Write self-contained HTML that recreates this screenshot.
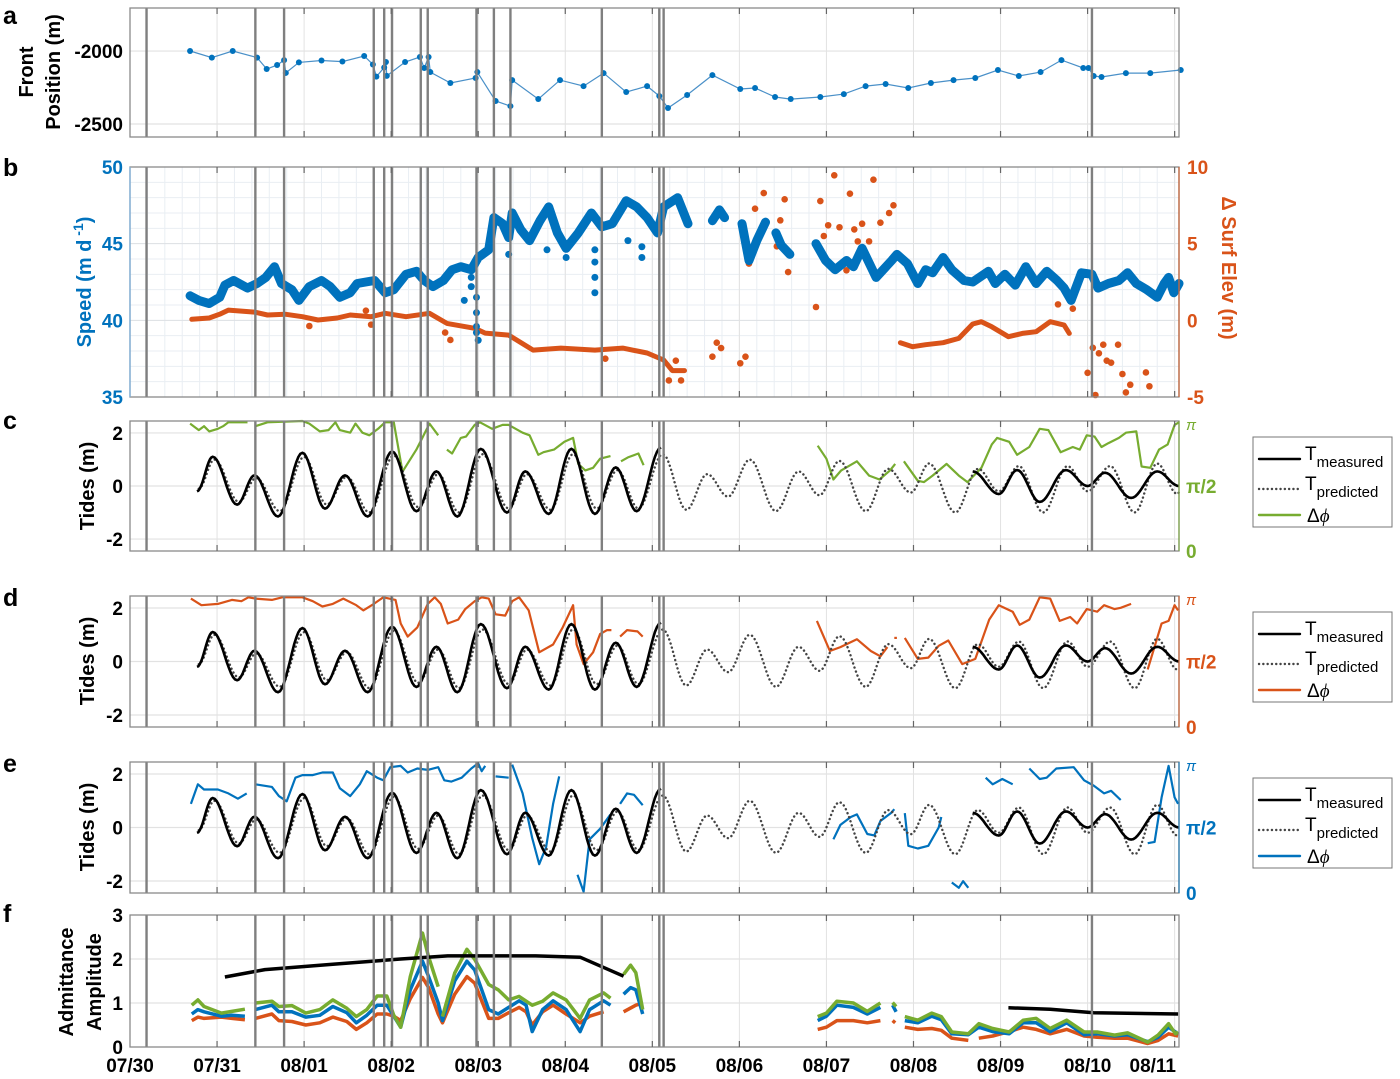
<!DOCTYPE html>
<html><head><meta charset="utf-8"><style>
html,body{margin:0;padding:0;background:#fff;}
svg{display:block;font-family:"Liberation Sans",Arial,sans-serif;font-weight:bold;}
</style></head><body>
<svg id="fig" width="1400" height="1079" viewBox="0 0 1400 1079" xmlns="http://www.w3.org/2000/svg">
<rect x="0" y="0" width="1400" height="1079" fill="#fff"/>
<g id="grids"></g>
<g id="marks"></g>
<g id="events"></g>
<g id="axes"></g>
<g id="labels" font-size="18" fill="#000">
<text x="3" y="24" font-size="25">a</text>
<text x="3" y="176" font-size="25">b</text>
<text x="3" y="429" font-size="25">c</text>
<text x="3" y="606" font-size="25">d</text>
<text x="3" y="772" font-size="25">e</text>
<text x="3" y="922" font-size="25">f</text>
<text transform="translate(33,72) rotate(-90)" text-anchor="middle" font-size="20">Front</text>
<text transform="translate(60,72) rotate(-90)" text-anchor="middle" font-size="20">Position (m)</text>
<text transform="translate(91,282) rotate(-90)" text-anchor="middle" font-size="20" fill="#0072BD">Speed (m d<tspan dy="-8" font-size="14"> -1</tspan><tspan dy="8">)</tspan></text>
<text transform="translate(1222,268) rotate(90)" text-anchor="middle" font-size="20" fill="#D95319">Δ Surf Elev (m)</text>
<text transform="translate(94,486) rotate(-90)" text-anchor="middle" font-size="20">Tides (m)</text>
<text transform="translate(94,661) rotate(-90)" text-anchor="middle" font-size="20">Tides (m)</text>
<text transform="translate(94,827) rotate(-90)" text-anchor="middle" font-size="20">Tides (m)</text>
<text transform="translate(73,982) rotate(-90)" text-anchor="middle" font-size="20">Admittance</text>
<text transform="translate(101,982) rotate(-90)" text-anchor="middle" font-size="20">Amplitude</text>
</g>
<g id="legends"></g>
</svg>
<script>
// ---------- DATA ----------
const dayLabels = ["07/30","07/31","08/01","08/02","08/03","08/04","08/05","08/06","08/07","08/08","08/09","08/10","08/11"];
const eventDays = [0.19,1.44,1.77,2.80,2.92,3.01,3.34,3.42,3.98,4.18,4.37,5.42,6.08,6.13,11.05];
const frontPos = [[0.69,-2000],[0.94,-2045],[1.18,-2000],[1.46,-2045],[1.57,-2123],[1.69,-2096],[1.77,-2062],[1.79,-2150],[1.94,-2078],[2.20,-2065],[2.44,-2072],[2.69,-2034],[2.79,-2092],[2.83,-2175],[2.92,-2113],[2.94,-2075],[2.95,-2170],[3.16,-2075],[3.33,-2041],[3.38,-2116],[3.43,-2041],[3.45,-2144],[3.68,-2219],[3.97,-2185],[3.99,-2144],[4.20,-2342],[4.37,-2377],[4.39,-2199],[4.69,-2329],[4.94,-2199],[5.21,-2240],[5.44,-2151],[5.70,-2281],[5.94,-2240],[6.08,-2308],[6.18,-2390],[6.40,-2301],[6.69,-2165],[7.01,-2260],[7.18,-2253],[7.41,-2315],[7.59,-2329],[7.93,-2315],[8.20,-2295],[8.45,-2240],[8.68,-2226],[8.94,-2253],[9.20,-2219],[9.46,-2199],[9.71,-2185],[9.97,-2130],[10.21,-2171],[10.46,-2144],[10.70,-2062],[10.95,-2116],[11.01,-2116],[11.07,-2171],[11.16,-2178],[11.44,-2151],[11.72,-2151],[12.07,-2130]];
const speedSegs = [
 [[0.69,41.6],[0.79,41.3],[0.91,41.1],[1.03,41.5],[1.09,42.3],[1.19,42.6],[1.35,42.1],[1.46,42.4],[1.56,42.8],[1.66,43.5],[1.74,42.4],[1.80,42.2],[1.86,42.0],[1.94,41.3],[2.06,42.2],[2.20,42.6],[2.30,42.2],[2.41,41.5],[2.53,41.8],[2.61,42.4],[2.81,42.6],[2.93,41.8],[3.03,42.0],[3.17,43.0],[3.29,43.2],[3.38,42.6],[3.48,42.2],[3.60,42.6],[3.70,43.3],[3.80,43.5],[3.92,43.3],[4.00,44.1],[4.12,44.6],[4.18,46.7],[4.28,46.3],[4.35,45.4],[4.39,47.0],[4.49,45.9],[4.59,45.2],[4.71,46.5],[4.81,47.4],[4.91,45.7],[5.01,44.7],[5.15,45.7],[5.30,47.0],[5.42,46.1],[5.54,46.3],[5.70,47.8],[5.82,47.4],[5.94,46.7],[6.06,45.7],[6.13,47.4],[6.29,48.0],[6.41,46.3]],
 [[6.69,46.5],[6.77,47.2],[6.83,46.7]],
 [[7.03,46.3],[7.11,43.9],[7.20,45.2],[7.30,46.4]],
 [[7.42,45.7],[7.48,44.9],[7.58,44.3]],
 [[7.88,45.0],[7.99,43.9],[8.10,43.3],[8.23,43.9],[8.31,43.5],[8.41,44.7],[8.57,42.8],[8.75,43.9],[8.81,44.3],[8.93,43.7],[9.05,42.4],[9.14,43.3],[9.22,43.1],[9.34,44.1],[9.44,43.3],[9.58,42.6],[9.68,42.5],[9.86,43.2],[9.94,42.4],[10.05,43.0],[10.17,42.3],[10.29,43.5],[10.41,42.4],[10.53,43.2],[10.65,42.6],[10.73,42.1],[10.81,41.3],[10.93,43.1],[11.05,43.0],[11.12,42.1],[11.24,42.4],[11.36,42.6],[11.46,43.1],[11.56,42.4],[11.68,42.0],[11.80,41.5],[11.88,42.4],[11.93,42.8],[11.99,41.8],[12.05,42.4]]
];
const speedOutliers = [[3.84,41.3],[3.98,40.5],[4.00,38.7],[4.35,44.3],[4.79,44.6],[5.01,44.1],[5.34,44.6],[5.34,43.8],[5.34,42.8],[5.34,41.8],[5.72,45.2],[5.88,44.8],[5.88,44.1],[3.92,42.8],[3.92,42.2],[3.98,41.5],[3.98,39.6],[3.98,39.2]];
const elevSegs = [
 [[0.71,0.07],[0.91,0.15],[1.03,0.4],[1.13,0.67],[1.43,0.54],[1.58,0.35],[1.78,0.4],[1.98,0.24],[2.16,0.02],[2.38,0.15],[2.53,0.35],[2.77,0.24],[2.93,0.46],[3.17,0.24],[3.44,0.46],[3.64,-0.2],[3.96,-0.52],[4.08,-0.83],[4.35,-0.96],[4.63,-1.94],[4.95,-1.81],[5.34,-1.94],[5.66,-1.81],[5.94,-2.13],[6.13,-2.59],[6.23,-3.28],[6.37,-3.28]],
 [[8.85,-1.46],[8.99,-1.72],[9.14,-1.59],[9.34,-1.46],[9.52,-1.18],[9.68,-0.24],[9.78,-0.09],[9.90,-0.42],[10.09,-1.07],[10.25,-0.85],[10.41,-0.74],[10.57,-0.09],[10.73,-0.31],[10.79,-0.85]]
];
const elevOutliers = [[2.06,-0.37],[2.71,0.63],[2.77,-0.28],[3.62,-0.8],[3.68,-1.28],[5.46,-2.5],[6.19,-3.92],[6.27,-2.63],[6.33,-3.92],[6.69,-2.37],[6.74,-1.46],[6.79,-1.81],[7.01,-2.8],[7.07,-2.37],[7.11,3.7],[7.18,7.28],[7.28,8.3],[7.43,4.83],[7.47,6.52],[7.52,7.89],[7.56,3.15],[7.88,0.87],[7.93,7.78],[7.97,5.5],[8.02,6.2],[8.09,9.46],[8.15,6.07],[8.23,3.26],[8.27,8.26],[8.32,5.93],[8.36,5.15],[8.41,6.3],[8.49,5.15],[8.54,9.17],[8.62,6.37],[8.72,7.0],[8.77,7.5],[10.66,1.04],[10.83,0.76],[11.0,-3.42],[11.06,-1.79],[11.09,-4.87],[11.13,-2.15],[11.18,-1.59],[11.22,-2.63],[11.27,-2.76],[11.35,-1.59],[11.40,-3.5],[11.44,-4.7],[11.49,-4.2],[11.67,-3.4],[11.71,-4.3]];
const tideMeasLeft = [[0.77,-0.2],[0.95,1.1],[1.23,-0.7],[1.43,0.4],[1.70,-1.15],[1.98,1.25],[2.24,-0.85],[2.47,0.4],[2.73,-1.15],[3.01,1.3],[3.29,-0.95],[3.52,0.55],[3.76,-1.15],[4.03,1.4],[4.33,-1.0],[4.54,0.55],[4.81,-1.05],[5.07,1.4],[5.34,-1.05],[5.58,0.7],[5.82,-0.95],[6.10,1.45]];
const tideMeasRight = [[9.68,0.55],[9.98,-0.3],[10.19,0.6],[10.45,-0.6],[10.75,0.6],[11.00,0.0],[11.20,0.5],[11.50,-0.45],[11.80,0.55],[12.05,0.0]];
const tidePred = [[0.79,-0.1],[0.97,1.0],[1.25,-0.6],[1.45,0.3],[1.72,-0.95],[2.0,1.1],[2.26,-0.7],[2.49,0.35],[2.75,-1.0],[3.03,1.15],[3.31,-0.8],[3.54,0.45],[3.78,-1.0],[4.05,1.2],[4.35,-0.85],[4.56,0.45],[4.83,-0.9],[5.09,1.2],[5.36,-0.85],[5.60,0.6],[5.84,-0.85],[6.12,1.2],[6.39,-0.9],[6.63,0.45],[6.87,-0.4],[7.12,1.0],[7.42,-0.95],[7.68,0.55],[7.92,-0.35],[8.15,0.95],[8.45,-0.95],[8.71,0.65],[8.97,-0.25],[9.18,0.85],[9.48,-1.0],[9.74,0.65],[9.98,-0.2],[10.21,0.75],[10.49,-1.0],[10.77,0.75],[11.00,-0.2],[11.26,0.75],[11.54,-1.0],[11.80,0.85],[12.03,-0.3],[12.05,-0.25]];
const phaseC = [
 [[0.69,0.98],[0.79,0.93],[0.85,0.96],[0.91,0.92],[1.01,0.94],[1.07,0.96],[1.13,0.99],[1.35,0.99]],
 [[1.44,0.96],[1.58,0.99],[1.98,1.0],[2.06,0.98],[2.18,0.92],[2.28,0.93],[2.36,0.99],[2.41,0.93],[2.53,0.91],[2.59,0.98],[2.67,0.91],[2.75,0.89],[2.85,0.94],[2.93,0.99],[3.03,0.99],[3.13,0.61],[3.29,0.78],[3.44,0.98],[3.54,0.89]],
 [[3.64,0.78],[3.70,0.75],[3.80,0.87],[3.86,0.88],[3.96,0.97],[4.02,0.99],[4.16,0.94],[4.28,0.97],[4.35,0.97],[4.51,0.91],[4.59,0.89],[4.69,0.74],[4.75,0.76],[4.87,0.78],[4.99,0.84],[5.09,0.87],[5.15,0.67],[5.23,0.62],[5.32,0.64],[5.40,0.71],[5.52,0.73]],
 [[5.64,0.69],[5.72,0.72],[5.84,0.75],[5.90,0.66]],
 [[7.90,0.81],[8.00,0.71],[8.08,0.55],[8.17,0.62],[8.35,0.69],[8.49,0.58],[8.61,0.55],[8.73,0.62],[8.79,0.67]],
 [[8.89,0.69],[9.05,0.54],[9.12,0.53],[9.22,0.58],[9.38,0.67],[9.52,0.58],[9.62,0.53],[9.78,0.64],[9.90,0.82],[9.96,0.87],[10.10,0.84],[10.19,0.74],[10.33,0.80],[10.45,0.94],[10.55,0.93],[10.69,0.76],[10.83,0.80],[10.91,0.78],[10.99,0.89],[11.08,0.88],[11.16,0.80],[11.24,0.83],[11.36,0.87],[11.44,0.91],[11.56,0.92],[11.62,0.65],[11.72,0.64],[11.82,0.78],[11.92,0.82],[12.00,0.97],[12.05,0.99]]
];
const phaseD = [
 [[0.70,0.98],[0.82,0.93],[1.01,0.94],[1.17,0.97],[1.28,0.96],[1.36,0.99],[1.44,0.98],[1.63,0.97],[1.75,0.99],[1.98,0.99],[2.10,0.96],[2.21,0.92],[2.33,0.94],[2.45,0.98],[2.60,0.93],[2.68,0.89],[2.80,0.94],[2.91,0.99],[3.05,0.97],[3.11,0.79],[3.19,0.69],[3.30,0.76],[3.42,0.94],[3.50,0.99],[3.57,0.94],[3.65,0.79],[3.77,0.82],[3.85,0.90],[3.96,0.96],[4.04,0.99],[4.12,0.98],[4.20,0.86],[4.31,0.85],[4.39,0.96],[4.47,0.99],[4.58,0.89],[4.70,0.57],[4.86,0.63],[4.97,0.76],[5.09,0.93],[5.13,0.63],[5.21,0.48],[5.32,0.57],[5.40,0.71],[5.48,0.74],[5.53,0.74]],
 [[5.63,0.69],[5.71,0.74],[5.83,0.73],[5.89,0.69]],
 [[7.89,0.81],[8.04,0.58],[8.16,0.61],[8.35,0.67],[8.51,0.58],[8.62,0.54],[8.70,0.61]],
 [[8.78,0.68]],
 [[8.90,0.68],[9.05,0.52],[9.17,0.53],[9.29,0.62],[9.40,0.66],[9.56,0.48],[9.71,0.52],[9.87,0.82],[9.98,0.93],[10.14,0.88],[10.22,0.78],[10.33,0.82],[10.45,0.99],[10.57,0.98],[10.68,0.81],[10.80,0.84],[10.88,0.79],[10.99,0.90],[11.11,0.88],[11.19,0.93],[11.31,0.90],[11.38,0.91],[11.50,0.94]],
 [[11.69,0.44],[11.85,0.79],[11.93,0.81],[12.0,0.93],[12.04,0.89]]
];
const phaseE = [
 [[0.70,0.68],[0.78,0.83],[0.85,0.79],[1.01,0.79],[1.13,0.76],[1.24,0.72],[1.34,0.76]],
 [[1.44,0.83],[1.63,0.81],[1.71,0.74],[1.80,0.70],[1.90,0.88],[1.98,0.90],[2.10,0.90],[2.21,0.92],[2.33,0.92],[2.41,0.80],[2.53,0.74],[2.64,0.83],[2.72,0.93],[2.84,0.88],[2.91,0.86],[2.99,0.96],[3.11,0.97],[3.19,0.92],[3.30,0.95],[3.42,0.94],[3.54,0.96],[3.61,0.86],[3.69,0.85],[3.81,0.88],[3.92,0.95],[4.00,0.99],[4.04,0.93],[4.08,0.97]],
 [[4.20,0.89],[4.35,0.88]],
 [[4.39,0.98],[4.51,0.76],[4.62,0.42],[4.70,0.22],[4.78,0.35],[4.86,0.68],[4.93,0.89]],
 [[5.14,0.14],[5.21,0.01],[5.28,0.41],[5.40,0.49],[5.52,0.60]],
 [[5.63,0.68],[5.71,0.76],[5.79,0.75],[5.89,0.67]],
 [[8.08,0.41],[8.16,0.52],[8.28,0.58],[8.35,0.60],[8.47,0.45],[8.55,0.44],[8.62,0.55],[8.74,0.61],[8.78,0.64]],
 [[8.90,0.61],[8.94,0.36],[9.05,0.34],[9.17,0.36],[9.29,0.50],[9.32,0.58]],
 [[9.44,0.08],[9.52,0.04],[9.57,0.09],[9.63,0.04]],
 [[9.83,0.88],[9.91,0.83],[10.02,0.87],[10.14,0.83]],
 [[10.33,0.95],[10.45,0.87],[10.53,0.88],[10.64,0.95],[10.84,0.96],[10.96,0.86],[11.07,0.82],[11.19,0.76],[11.27,0.78],[11.38,0.71]],
 [[11.69,0.38],[11.77,0.39],[11.85,0.73],[11.93,0.97],[12.0,0.73],[12.04,0.68]]
];
const admitTide = [
 [[1.09,1.59],[1.55,1.76],[2.33,1.88],[3.11,2.0],[3.65,2.07],[4.66,2.07],[5.17,2.04],[5.67,1.61]],
 [[10.09,0.89],[10.57,0.86],[11.07,0.78],[12.04,0.75]]
];
const admitGreen = [
 [[0.71,0.95],[0.78,1.07],[0.85,0.92],[1.05,0.77],[1.17,0.81],[1.32,0.86]],
 [[1.44,1.0],[1.63,1.04],[1.71,0.92],[1.86,0.94],[2.02,0.77],[2.18,0.85],[2.33,1.07],[2.49,0.88],[2.60,0.69],[2.72,0.85],[2.84,1.16],[2.95,1.16],[3.03,0.72],[3.11,0.45],[3.22,1.6],[3.36,2.59],[3.43,2.05],[3.54,1.37]],
 [[3.59,0.69],[3.73,1.68],[3.87,2.22],[3.96,1.99],[4.12,1.42],[4.23,1.30],[4.35,1.07],[4.47,1.15],[4.62,0.95],[4.74,1.04],[4.86,1.23],[5.01,1.07],[5.17,0.65],[5.28,1.07],[5.44,1.23],[5.52,1.11]],
 [[5.67,1.65],[5.75,1.86],[5.81,1.69],[5.89,0.85]],
 [[7.90,0.69],[8.00,0.77],[8.12,1.04],[8.31,1.0],[8.47,0.81],[8.62,1.0]],
 [[8.76,1.01],[8.80,0.92]],
 [[8.90,0.69],[9.05,0.61],[9.21,0.77],[9.32,0.69],[9.44,0.34],[9.63,0.30],[9.75,0.53],[9.91,0.42],[10.10,0.34],[10.26,0.61],[10.41,0.65],[10.57,0.42],[10.76,0.61],[10.96,0.34],[11.11,0.34],[11.31,0.27],[11.46,0.32],[11.69,0.11],[11.81,0.27],[11.93,0.53],[12.01,0.30],[12.04,0.34]]
];
const admitBlue = [
 [[0.71,0.75],[0.78,0.85],[0.85,0.8],[1.05,0.7],[1.17,0.72],[1.32,0.7]],
 [[1.44,0.85],[1.63,0.95],[1.71,0.8],[1.86,0.8],[2.02,0.68],[2.18,0.72],[2.33,0.92],[2.49,0.78],[2.60,0.55],[2.72,0.72],[2.84,0.95],[2.95,0.95],[3.03,0.7],[3.11,0.45],[3.22,1.3],[3.36,1.95],[3.43,1.6],[3.54,1.0],[3.59,0.6],[3.73,1.5],[3.87,1.95],[3.96,1.75],[4.12,0.85],[4.23,0.75],[4.35,0.9],[4.47,1.05],[4.55,0.95],[4.62,0.35],[4.74,0.85],[4.86,1.05],[5.01,0.85],[5.17,0.35],[5.28,0.85],[5.44,1.05],[5.52,0.95]],
 [[5.67,1.2],[5.75,1.35],[5.81,1.3],[5.89,0.75]],
 [[7.90,0.6],[8.00,0.7],[8.12,0.95],[8.31,0.9],[8.47,0.75],[8.62,0.9]],
 [[8.76,0.95],[8.80,0.8]],
 [[8.90,0.6],[9.05,0.55],[9.21,0.7],[9.32,0.62],[9.44,0.3],[9.63,0.28],[9.75,0.45],[9.91,0.35],[10.10,0.3],[10.26,0.55],[10.41,0.55],[10.57,0.35],[10.76,0.55],[10.96,0.28],[11.11,0.3],[11.31,0.25],[11.46,0.28],[11.69,0.12],[11.81,0.22],[11.93,0.45],[12.04,0.3]]
];
const admitOrange = [
 [[0.71,0.6],[0.78,0.68],[0.85,0.65],[1.05,0.68],[1.17,0.65],[1.32,0.62]],
 [[1.44,0.65],[1.63,0.75],[1.71,0.6],[1.86,0.58],[2.02,0.5],[2.18,0.55],[2.33,0.68],[2.49,0.58],[2.60,0.4],[2.72,0.55],[2.84,0.75],[2.95,0.75],[3.03,0.7],[3.11,0.6],[3.22,1.1],[3.36,1.58],[3.43,1.35],[3.54,0.75],[3.59,0.55],[3.73,1.2],[3.87,1.6],[3.96,1.45],[4.12,0.65],[4.23,0.65],[4.35,0.78],[4.47,0.9],[4.55,0.8],[4.62,0.5],[4.74,0.8],[4.86,0.95],[5.01,0.75],[5.17,0.55],[5.28,0.7],[5.44,0.8]],
 [[5.67,0.8],[5.81,0.95],[5.89,1.0]],
 [[7.90,0.4],[8.00,0.45],[8.12,0.6],[8.31,0.6],[8.47,0.55],[8.62,0.6]],
 [[8.76,0.6],[8.79,0.55]],
 [[8.90,0.45],[9.05,0.4],[9.21,0.42],[9.32,0.38],[9.44,0.2],[9.63,0.15]],
 [[9.75,0.2],[9.91,0.25],[10.10,0.35],[10.26,0.45],[10.41,0.4],[10.57,0.3],[10.76,0.4],[10.96,0.25],[11.11,0.22],[11.31,0.2],[11.46,0.2],[11.69,0.08],[11.81,0.15],[11.93,0.3],[12.04,0.25]]
];
const ticksFront = [-2000,-2500];
const ticksSpeed = [50,45,40,35];
const ticksElev = [10,5,0,-5];
const ticksTide = [2,0,-2];
const ticksPhase = [0,0.5,1];
const ticksPhaseLabels = ["0","π/2","π"];
const ticksAdmit = [3,2,1,0];

// ---------- SCALES ----------
const NS = "http://www.w3.org/2000/svg";
const X0 = 130, X1 = 1179, DMAX = 12.05;
const xs = d => X0 + d * (X1 - X0) / DMAX;
function lin(d0, d1, r0, r1) { return v => r0 + (v - d0) * (r1 - r0) / (d1 - d0); }
const panels = {
  a: {top: 8, bot: 137}, b: {top: 167, bot: 397}, c: {top: 421, bot: 551},
  d: {top: 596, bot: 727}, e: {top: 762, bot: 893}, f: {top: 915, bot: 1047}
};
const yFront = lin(-2589, -1705, panels.a.bot, panels.a.top);
const ySpeed = lin(35, 50, panels.b.bot, panels.b.top);
const yElev = lin(-5, 10, panels.b.bot, panels.b.top);
const yTide = {}; const yPh = {};
['c','d','e'].forEach(k => { yTide[k] = lin(-2.45, 2.45, panels[k].bot, panels[k].top); yPh[k] = lin(0, 1, panels[k].bot, panels[k].top); });
const yAdm = lin(0, 3, panels.f.bot, panels.f.top);

const G = id => document.getElementById(id);
function mk(tag, parent) { const el = document.createElementNS(NS, tag); parent.appendChild(el); return el; }
function pathD(pts, ys) { return pts.map((p, i) => (i ? 'L' : 'M') + xs(p[0]).toFixed(1) + ' ' + ys(p[1]).toFixed(1)).join(''); }
function tideSmooth(ext) {
  const out = [];
  for (let i = 0; i < ext.length - 1; i++) {
    const [t0, v0] = ext[i], [t1, v1] = ext[i + 1];
    for (let s = 0; s < 12; s++) { const f = s / 12; out.push([t0 + (t1 - t0) * f, v0 + (v1 - v0) * (1 - Math.cos(Math.PI * f)) / 2]); }
  }
  out.push(ext[ext.length - 1]);
  return out;
}

// ---------- GRIDS ----------
const grids = G('grids');
Object.keys(panels).forEach(k => {
  const p = panels[k];
  if (k === 'b') {
    for (let d = 0.2; d < DMAX; d += 0.2) {
      const l = mk('line', grids);
      
      
      l.setAttribute('x1', xs(d)); l.setAttribute('x2', xs(d)); l.setAttribute('y1', p.top); l.setAttribute('y2', p.bot);
      l.setAttribute('stroke', '#e9eef3'); l.setAttribute('stroke-width', '1');
    }
    for (let v = 36; v < 50; v++) {
      const l = mk('line', grids);
      
      
      l.setAttribute('x1', X0); l.setAttribute('x2', X1); l.setAttribute('y1', ySpeed(v)); l.setAttribute('y2', ySpeed(v));
      l.setAttribute('stroke', v % 5 === 0 ? '#dcdfe3' : '#e9eef3'); l.setAttribute('stroke-width', '1');
    }
  }
  for (let d = 1; d <= 12; d++) {
    const l = mk('line', grids);
    
    
    l.setAttribute('x1', xs(d)); l.setAttribute('x2', xs(d)); l.setAttribute('y1', p.top); l.setAttribute('y2', p.bot);
    l.setAttribute('stroke', '#e2e2e2'); l.setAttribute('stroke-width', '1');
  }
  let hv = [];
  if (k === 'a') hv = ticksFront.map(yFront);
  if (k === 'c' || k === 'd' || k === 'e') hv = ticksTide.map(yTide[k]);
  if (k === 'f') hv = [1, 2].map(yAdm);
  hv.forEach(y => {
    const l = mk('line', grids);
    
    
    l.setAttribute('x1', X0); l.setAttribute('x2', X1); l.setAttribute('y1', y); l.setAttribute('y2', y);
    l.setAttribute('stroke', '#e2e2e2'); l.setAttribute('stroke-width', '1.2');
  });
});

// ---------- MARKS ----------
const marks = G('marks');
{
  const pl = mk('path', marks);
  
  
  pl.setAttribute('d', pathD(frontPos, yFront)); pl.setAttribute('fill', 'none'); pl.setAttribute('stroke', '#4a90c8'); pl.setAttribute('stroke-width', '1.2');
  frontPos.forEach(p => {
    const c = mk('circle', marks);
    
    
    c.setAttribute('cx', xs(p[0])); c.setAttribute('cy', yFront(p[1])); c.setAttribute('r', '3'); c.setAttribute('fill', '#0072BD');
  });
}
elevSegs.forEach(seg => {
  const pl = mk('path', marks);
  
  
  pl.setAttribute('d', pathD(seg, yElev)); pl.setAttribute('fill', 'none'); pl.setAttribute('stroke', '#D95319'); pl.setAttribute('stroke-width', '5'); pl.setAttribute('stroke-linejoin', 'round'); pl.setAttribute('stroke-linecap', 'round');
});
elevOutliers.forEach(p => {
  const c = mk('circle', marks);
  
  
  c.setAttribute('cx', xs(p[0])); c.setAttribute('cy', yElev(p[1])); c.setAttribute('r', '3.3'); c.setAttribute('fill', '#D95319');
});
speedSegs.forEach(seg => {
  const pl = mk('path', marks);
  
  
  pl.setAttribute('d', pathD(seg, ySpeed)); pl.setAttribute('fill', 'none'); pl.setAttribute('stroke', '#0072BD'); pl.setAttribute('stroke-width', '9'); pl.setAttribute('stroke-linejoin', 'round'); pl.setAttribute('stroke-linecap', 'round');
});
speedOutliers.forEach(p => {
  const c = mk('circle', marks);
  
  
  c.setAttribute('cx', xs(p[0])); c.setAttribute('cy', ySpeed(p[1])); c.setAttribute('r', '3.5'); c.setAttribute('fill', '#0072BD');
});
const phaseSets = {c: [phaseC, '#77AC30'], d: [phaseD, '#D95319'], e: [phaseE, '#0072BD']};
['c','d','e'].forEach(k => {
  const [ph, col] = phaseSets[k];
  ph.forEach(seg => {
    const pl = mk('path', marks);
    
    
    const pts = seg.length === 1 ? [seg[0], [seg[0][0] + 0.03, seg[0][1]]] : seg;
    pl.setAttribute('d', pathD(pts, yPh[k])); pl.setAttribute('fill', 'none'); pl.setAttribute('stroke', col); pl.setAttribute('stroke-width', '2.2'); pl.setAttribute('stroke-linejoin', 'round');
  });
  const pr = mk('path', marks);
  
  
  pr.setAttribute('d', pathD(tideSmooth(tidePred), yTide[k])); pr.setAttribute('fill', 'none'); pr.setAttribute('stroke', '#444'); pr.setAttribute('stroke-width', '2.4'); pr.setAttribute('stroke-dasharray', '0.1 4.2'); pr.setAttribute('stroke-linecap', 'round');
  [tideMeasLeft, tideMeasRight].forEach(ext => {
    const m = mk('path', marks);
    
    
    m.setAttribute('d', pathD(tideSmooth(ext), yTide[k])); m.setAttribute('fill', 'none'); m.setAttribute('stroke', '#000'); m.setAttribute('stroke-width', '2.6');
  });
});
[[admitOrange, '#D95319', 'admittance-orange'], [admitBlue, '#0072BD', 'admittance-blue'], [admitGreen, '#77AC30', 'admittance-green'], [admitTide, '#000', 'admittance-tide']].forEach(([segs, col, nm]) => {
  segs.forEach(seg => {
    const pl = mk('path', marks);
    
    
    pl.setAttribute('d', pathD(seg, yAdm)); pl.setAttribute('fill', 'none'); pl.setAttribute('stroke', col); pl.setAttribute('stroke-width', '3.5'); pl.setAttribute('stroke-linejoin', 'round');
  });
});

// ---------- EVENT LINES ----------
const ev = G('events');
Object.keys(panels).forEach(k => {
  const p = panels[k];
  eventDays.forEach(d => {
    const l = mk('line', ev);
    
    
    l.setAttribute('x1', xs(d)); l.setAttribute('x2', xs(d)); l.setAttribute('y1', p.top); l.setAttribute('y2', p.bot);
    l.setAttribute('stroke', '#7f7f7f'); l.setAttribute('stroke-width', '2.4');
  });
});

// ---------- AXES ----------
const ax = G('axes');
function txt(parent, x, y, s, anchor, col, size) {
  const t = mk('text', parent);
  t.setAttribute('x', x); t.setAttribute('y', y); t.setAttribute('text-anchor', anchor); t.setAttribute('fill', col); t.setAttribute('font-size', size || 18);
  t.textContent = s; return t;
}
const rightCol = {b: '#D95319', c: '#77AC30', d: '#D95319', e: '#0072BD'};
Object.keys(panels).forEach(k => {
  const p = panels[k];
  const box = mk('rect', ax);
  
  
  box.setAttribute('x', X0); box.setAttribute('y', p.top); box.setAttribute('width', X1 - X0); box.setAttribute('height', p.bot - p.top);
  box.setAttribute('fill', 'none'); box.setAttribute('stroke', '#8a8a8a'); box.setAttribute('stroke-width', '1.3');
  if (k === 'b') {
    const ll = mk('line', ax);
    
    
    ll.setAttribute('x1', X0); ll.setAttribute('x2', X0); ll.setAttribute('y1', p.top); ll.setAttribute('y2', p.bot); ll.setAttribute('stroke', '#7fb2dc'); ll.setAttribute('stroke-width', '1.3');
  }
  if (rightCol[k]) {
    const rl = mk('line', ax);
    
    
    rl.setAttribute('x1', X1); rl.setAttribute('x2', X1); rl.setAttribute('y1', p.top); rl.setAttribute('y2', p.bot); rl.setAttribute('stroke', rightCol[k]); rl.setAttribute('stroke-width', '1.3'); rl.setAttribute('opacity', '0.7');
  }
  for (let d = 1; d <= 12; d++) {
    [[p.top, p.top + 6], [p.bot - 6, p.bot]].forEach(([a, b]) => {
      const t = mk('line', ax);
      
      
      t.setAttribute('x1', xs(d)); t.setAttribute('x2', xs(d)); t.setAttribute('y1', a); t.setAttribute('y2', b); t.setAttribute('stroke', '#666'); t.setAttribute('stroke-width', '1.2');
    });
  }
});
ticksFront.forEach(v => { const t = txt(ax, 123, yFront(v) + 7, String(v), 'end', '#000', 19);
  
   });
ticksSpeed.forEach(v => { const t = txt(ax, 123, ySpeed(v) + 7, String(v), 'end', '#0072BD', 19);
  
   });
ticksElev.forEach(v => { const t = txt(ax, 1187, yElev(v) + 7, String(v), 'start', '#D95319', 19);
  
   });
['c','d','e'].forEach(k => {
  ticksTide.forEach(v => { const t = txt(ax, 123, yTide[k](v) + 7, String(v), 'end', '#000', 19);
    
     });
  ticksPhase.forEach((v, i) => {
    const lab = ticksPhaseLabels[i];
    const y = Math.max(yPh[k](v) + 7, panels[k].top + 9);
    const t = txt(ax, 1186, y, lab, 'start', rightCol[k], lab === 'π' ? 15 : 19);
    
    
    if (lab === 'π') { t.setAttribute('font-weight', 'normal'); t.setAttribute('font-style', 'italic'); }
  });
});
ticksAdmit.forEach(v => { const t = txt(ax, 123, yAdm(v) + 7, String(v), 'end', '#000', 19);
  
   });
dayLabels.forEach((s, i) => {
  const last = i === dayLabels.length - 1;
  const t = txt(ax, last ? 1176 : xs(i), 1072, s, last ? 'end' : 'middle', '#000', 19);
  
   });

// ---------- LEGENDS ----------
const lg = G('legends');
const legendTops = {c: 437, d: 612, e: 778};
['c','d','e'].forEach(k => {
  const top = legendTops[k];
  const g = mk('g', lg);
  
  
  const r = mk('rect', g);
  r.setAttribute('x', 1253); r.setAttribute('y', top); r.setAttribute('width', 139); r.setAttribute('height', 90);
  r.setAttribute('fill', '#fff'); r.setAttribute('stroke', '#777'); r.setAttribute('stroke-width', '1');
  const rows = [[top + 22, '#000', 'none', 'measured'], [top + 52, '#444', '0.1 4.2', 'predicted'], [top + 78, phaseSets[k][1], 'none', null]];
  rows.forEach(([y, col, dash, sub]) => {
    const l = mk('line', g);
    
    
    l.setAttribute('x1', 1259); l.setAttribute('x2', 1300); l.setAttribute('y1', y); l.setAttribute('y2', y);
    l.setAttribute('stroke', col); l.setAttribute('stroke-width', '2.4'); l.setAttribute('stroke-dasharray', dash); l.setAttribute('stroke-linecap', 'round');
    const t = mk('text', g);
    
    
    t.setAttribute('font-size', '19'); t.setAttribute('font-weight', 'normal');
    if (sub) {
      t.setAttribute('x', 1305); t.setAttribute('y', y + 1);
      const a = mk('tspan', t); a.textContent = 'T';
      const b = mk('tspan', t); b.setAttribute('font-size', '15'); b.setAttribute('dy', '7'); b.textContent = sub;
    } else {
      t.setAttribute('x', 1307); t.setAttribute('y', y + 7);
      const a = mk('tspan', t); a.textContent = 'Δ';
      const b = mk('tspan', t); b.setAttribute('font-style', 'italic'); b.setAttribute('font-family', '"Liberation Serif", serif'); b.textContent = 'ϕ';
    }
  });
});
</script>
</body></html>
